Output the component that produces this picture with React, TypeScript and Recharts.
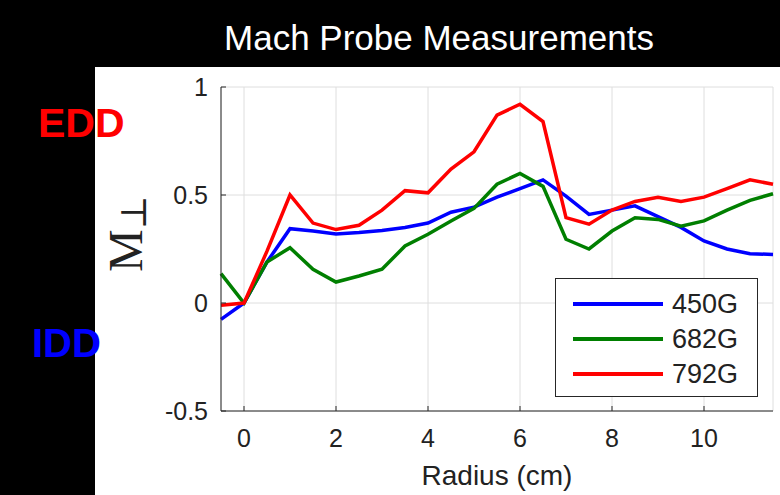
import { LineChart, Line, XAxis, YAxis, CartesianGrid, Legend } from "recharts"

// radius positions (cm) and the Mach number for each field strength
const radius = [-0.5, 0, 0.5, 1, 1.5, 2, 2.5, 3, 3.5, 4, 4.5, 5, 5.5, 6, 6.5, 7, 7.5, 8, 8.5, 9, 9.5, 10, 10.5, 11, 11.5]
const m450 = [-0.076, 0, 0.19, 0.344, 0.333, 0.32, 0.326, 0.336, 0.35, 0.37, 0.42, 0.444, 0.49, 0.53, 0.57, 0.495, 0.41, 0.43, 0.45, 0.4, 0.35, 0.287, 0.25, 0.228, 0.225]
const m682 = [0.136, 0, 0.19, 0.256, 0.156, 0.097, 0.125, 0.156, 0.264, 0.318, 0.38, 0.438, 0.55, 0.6, 0.54, 0.295, 0.25, 0.333, 0.395, 0.387, 0.356, 0.38, 0.43, 0.475, 0.506]
const m792 = [-0.01, 0, 0.24, 0.5, 0.37, 0.34, 0.36, 0.43, 0.52, 0.51, 0.62, 0.7, 0.87, 0.92, 0.84, 0.395, 0.365, 0.43, 0.47, 0.49, 0.47, 0.49, 0.53, 0.57, 0.55]

const xTicks = [0, 2, 4, 6, 8, 10]
const yTicks = [-0.5, 0, 0.5, 1]

const data = radius.map((r, i) => ({ r, m450: m450[i], m682: m682[i], m792: m792[i] }))

const AXIS = "#262626"
const FONT = "'Liberation Sans', Arial, sans-serif"

// ticks point inward, like the matlab box axes
const BottomTick = ({ x, y, payload }: any) => (
  <g>
    <line x1={x} y1={y} x2={x} y2={y - 5} stroke={AXIS} />
    <text x={x} y={y + 36} textAnchor="middle" fontSize={25} fill="#222" fontFamily={FONT}>
      {payload.value}
    </text>
  </g>
)

const LeftTick = ({ x, y, payload }: any) => (
  <g>
    <line x1={x} y1={y} x2={x + 5} y2={y} stroke={AXIS} />
    <text x={x - 13} y={y + 9} textAnchor="end" fontSize={25} fill="#222" fontFamily={FONT}>
      {payload.value}
    </text>
  </g>
)

const TopTick = ({ x, y }: any) => <line x1={x} y1={y} x2={x} y2={y + 5} stroke={AXIS} />
const RightTick = ({ x, y }: any) => <line x1={x} y1={y} x2={x - 5} y2={y} stroke={AXIS} />

const LegendBox = ({ payload }: any) => (
  <div
    style={{
      width: 201,
      height: 117,
      border: `1px solid ${AXIS}`,
      background: "#fff",
      position: "relative",
    }}
  >
    {(payload || []).map((entry: any, i: number) => (
      <div key={`leg-${i}`} style={{ position: "absolute", left: 0, top: 9 + i * 35, height: 32, width: 201 }}>
        <div style={{ position: "absolute", left: 17, top: 14, width: 90, height: 4, background: entry.color }} />
        <span
          style={{
            position: "absolute",
            left: 116,
            top: 0,
            fontSize: 27,
            lineHeight: "32px",
            color: "#222",
            fontFamily: FONT,
          }}
        >
          {entry.value}
        </span>
      </div>
    ))}
  </div>
)

export default function App() {
  return (
    <div style={{ position: "relative", width: 780, height: 495, background: "#000", overflow: "hidden" }}>
      <style>{"body{margin:0}"}</style>
      <div style={{ position: "absolute", left: 95, top: 67, width: 685, height: 428, background: "#fff" }} />
      <div style={{ position: "absolute", left: 0, top: 0 }}>
        <LineChart width={780} height={495} data={data} margin={{ top: 87, right: 7, bottom: 44, left: 141 }}>
          <CartesianGrid stroke="#dedede" />
          <XAxis
            dataKey="r"
            type="number"
            domain={[-0.5, 11.5]}
            ticks={xTicks}
            height={40}
            tickSize={0}
            tickMargin={0}
            tickLine={false}
            axisLine={{ stroke: AXIS }}
            tick={(p: any) => <BottomTick {...p} />}
            interval={0}
          />
          <XAxis
            xAxisId="top"
            orientation="top"
            dataKey="r"
            type="number"
            domain={[-0.5, 11.5]}
            ticks={xTicks}
            height={0}
            tickSize={0}
            tickMargin={0}
            tickLine={false}
            axisLine={{ stroke: AXIS }}
            tick={(p: any) => <TopTick {...p} />}
            interval={0}
          />
          <YAxis
            type="number"
            domain={[-0.5, 1]}
            ticks={yTicks}
            width={80}
            tickSize={0}
            tickMargin={0}
            tickLine={false}
            axisLine={{ stroke: AXIS }}
            tick={(p: any) => <LeftTick {...p} />}
            interval={0}
          />
          <YAxis
            yAxisId="right"
            orientation="right"
            type="number"
            domain={[-0.5, 1]}
            ticks={yTicks}
            width={0}
            tickSize={0}
            tickMargin={0}
            tickLine={false}
            axisLine={{ stroke: AXIS }}
            tick={(p: any) => <RightTick {...p} />}
            interval={0}
          />
          <Legend
            layout="vertical"
            align="center"
            verticalAlign="middle"
            wrapperStyle={{ left: 555, top: 278, width: 203, height: 119 }}
            content={(p: any) => <LegendBox {...p} />}
          />
          <Line dataKey="m450" name="450G" stroke="#0000ff" strokeWidth={3.5} dot={false} isAnimationActive={false} />
          <Line dataKey="m682" name="682G" stroke="#007f00" strokeWidth={3.5} dot={false} isAnimationActive={false} />
          <Line dataKey="m792" name="792G" stroke="#ff0000" strokeWidth={3.5} dot={false} isAnimationActive={false} />
        </LineChart>
      </div>
      <svg width={780} height={495} style={{ position: "absolute", left: 0, top: 0, pointerEvents: "none" }}>
        <text x={439} y={50} textAnchor="middle" fill="#fff" fontSize={35} fontFamily={FONT}>
          Mach Probe Measurements
        </text>
        <text x={38} y={137} fill="#ff0000" fontWeight="bold" fontSize={41} fontFamily={FONT}>
          EDD
        </text>
        <text x={32} y={357} fill="#0000ff" fontWeight="bold" fontSize={40} fontFamily={FONT}>
          IDD
        </text>
        <text transform="translate(142,272) rotate(-90)" fontSize={48} fill="#222" fontFamily="'Liberation Serif', 'DejaVu Serif', serif">
          M
          <tspan fontSize={36} dy={4} fontFamily="'DejaVu Serif', serif">
            ⊥
          </tspan>
        </text>
        <text x={497} y={485} textAnchor="middle" fontSize={28} fill="#222" fontFamily={FONT}>
          Radius (cm)
        </text>
      </svg>
    </div>
  )
}
